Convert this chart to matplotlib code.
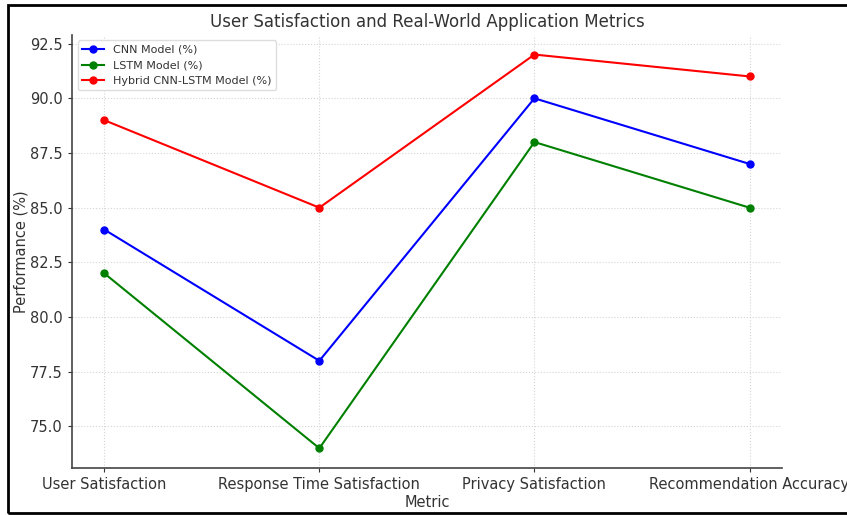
import matplotlib.pyplot as plt
from matplotlib.patches import Rectangle

metrics = ['User Satisfaction', 'Response Time Satisfaction',
           'Privacy Satisfaction', 'Recommendation Accuracy']
cnn = [84, 78, 90, 87]
lstm = [82, 74, 88, 85]
hybrid = [89, 85, 92, 91]

plt.rcParams['text.color'] = '#333333'
plt.rcParams['axes.labelcolor'] = '#333333'
plt.rcParams['xtick.color'] = '#333333'
plt.rcParams['ytick.color'] = '#333333'

fig = plt.figure(figsize=(8.47, 5.15), dpi=100)
ax = fig.add_axes([0.085, 0.0913, 0.838, 0.841])

ax.plot(metrics, cnn, marker='o', color='blue', lw=1.5, ms=5, label='CNN Model (%)')
ax.plot(metrics, lstm, marker='o', color='green', lw=1.5, ms=5, label='LSTM Model (%)')
ax.plot(metrics, hybrid, marker='o', color='red', lw=1.5, ms=5, label='Hybrid CNN-LSTM Model (%)')

ax.set_title('User Satisfaction and Real-World Application Metrics', fontsize=12)
ax.set_xlabel('Metric', fontsize=10.5, labelpad=2)
ax.set_ylabel('Performance (%)', fontsize=10.5, labelpad=1)
ax.tick_params(labelsize=10.5, length=3)
ax.grid(True, linestyle=':', color='#d5d5d5', lw=0.8)
for s in ['top', 'right']:
    ax.spines[s].set_visible(False)
for s in ['left', 'bottom']:
    ax.spines[s].set_color('#444444')
    ax.spines[s].set_linewidth(1.2)

leg = ax.legend(loc='upper left', fontsize=8, framealpha=1)
leg.get_frame().set_edgecolor('#dddddd')

fig.patches.append(Rectangle((0.009, 0.004), 1.2, 0.986, transform=fig.transFigure,
                             fill=False, edgecolor='black', lw=2))

fig.savefig('out.png', dpi=100)
